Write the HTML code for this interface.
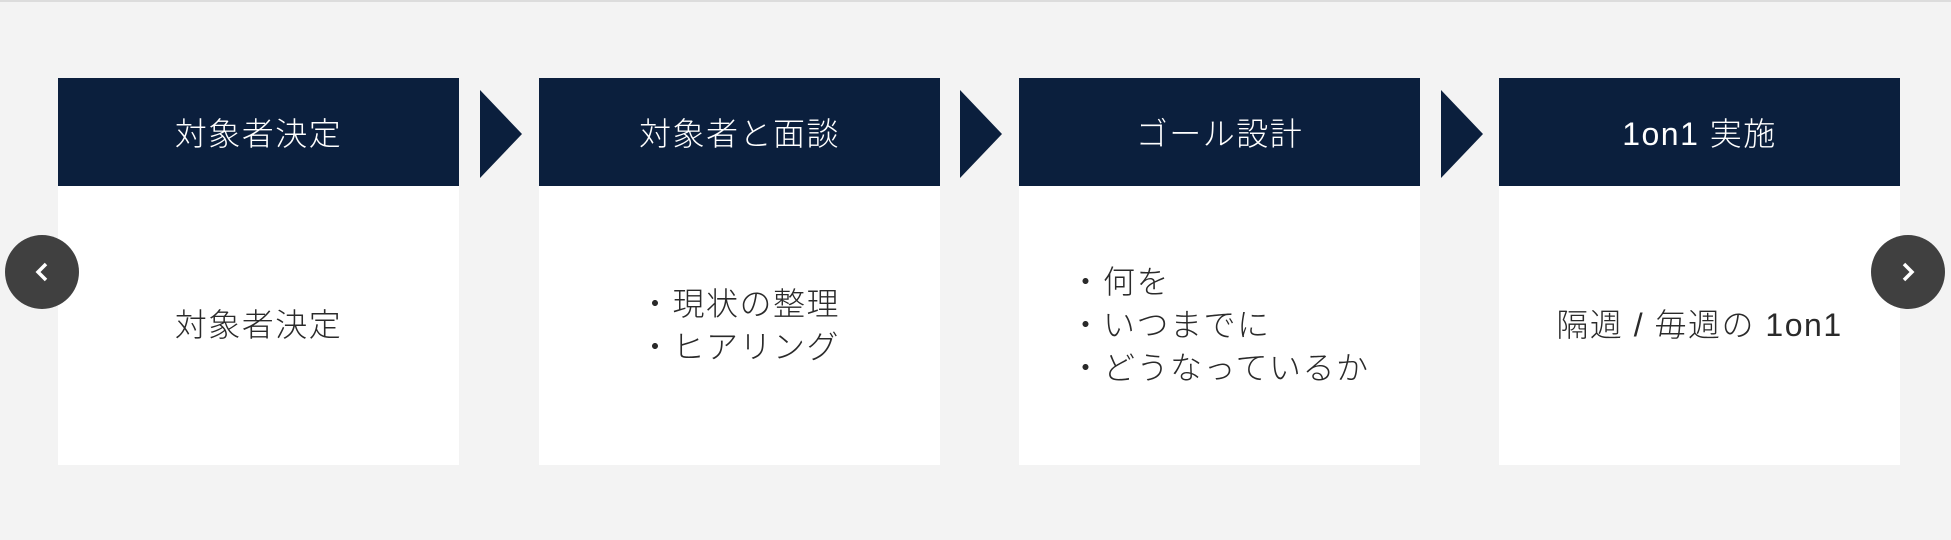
<!DOCTYPE html>
<html><head><meta charset="utf-8"><style>
html,body{margin:0;padding:0}
body{width:1951px;height:540px;background:#f3f3f3;position:relative;overflow:hidden;border-top:2px solid #dcdcdc;box-sizing:border-box;font-family:"Liberation Sans","Noto Sans CJK JP",sans-serif}
.card{position:absolute;top:76px;width:401px;height:387px;background:#fff}
.hd{height:108px;background:#0b1f3d;color:#fff;font-size:32px;letter-spacing:1.5px;display:flex;align-items:center;justify-content:center;font-weight:300}
.bd{height:279px;display:flex;align-items:center;justify-content:center;color:#2a2a2a;font-size:32px;letter-spacing:1.5px;line-height:43px;font-weight:300}
.bd div{text-align:left}
.arr{position:absolute;top:88px;width:0;height:0;border-top:44px solid transparent;border-bottom:44px solid transparent;border-left:42px solid #0b1f3d}
.btn{position:absolute;top:233px;width:74px;height:74px;border-radius:50%;background:#404040}
</style></head><body>
<div class="card" style="left:58px"><div class="hd">対象者決定</div><div class="bd"><div>対象者決定</div></div></div>
<div class="arr" style="left:480px"></div>
<div class="card" style="left:539px"><div class="hd">対象者と面談</div><div class="bd"><div>・現状の整理<br>・ヒアリング</div></div></div>
<div class="arr" style="left:960px"></div>
<div class="card" style="left:1019px"><div class="hd">ゴール設計</div><div class="bd"><div>・何を<br>・いつまでに<br>・どうなっているか</div></div></div>
<div class="arr" style="left:1441px"></div>
<div class="card" style="left:1499px"><div class="hd">1on1 実施</div><div class="bd"><div>隔週 / 毎週の 1on1</div></div></div>
<div class="btn" style="left:5px"><svg width="74" height="74"><polyline points="41,29 33,37 41,45" fill="none" stroke="#fff" stroke-width="3.5"/></svg></div>
<div class="btn" style="left:1871px"><svg width="74" height="74"><polyline points="33,29 41,37 33,45" fill="none" stroke="#fff" stroke-width="3.5"/></svg></div>
</body></html>
